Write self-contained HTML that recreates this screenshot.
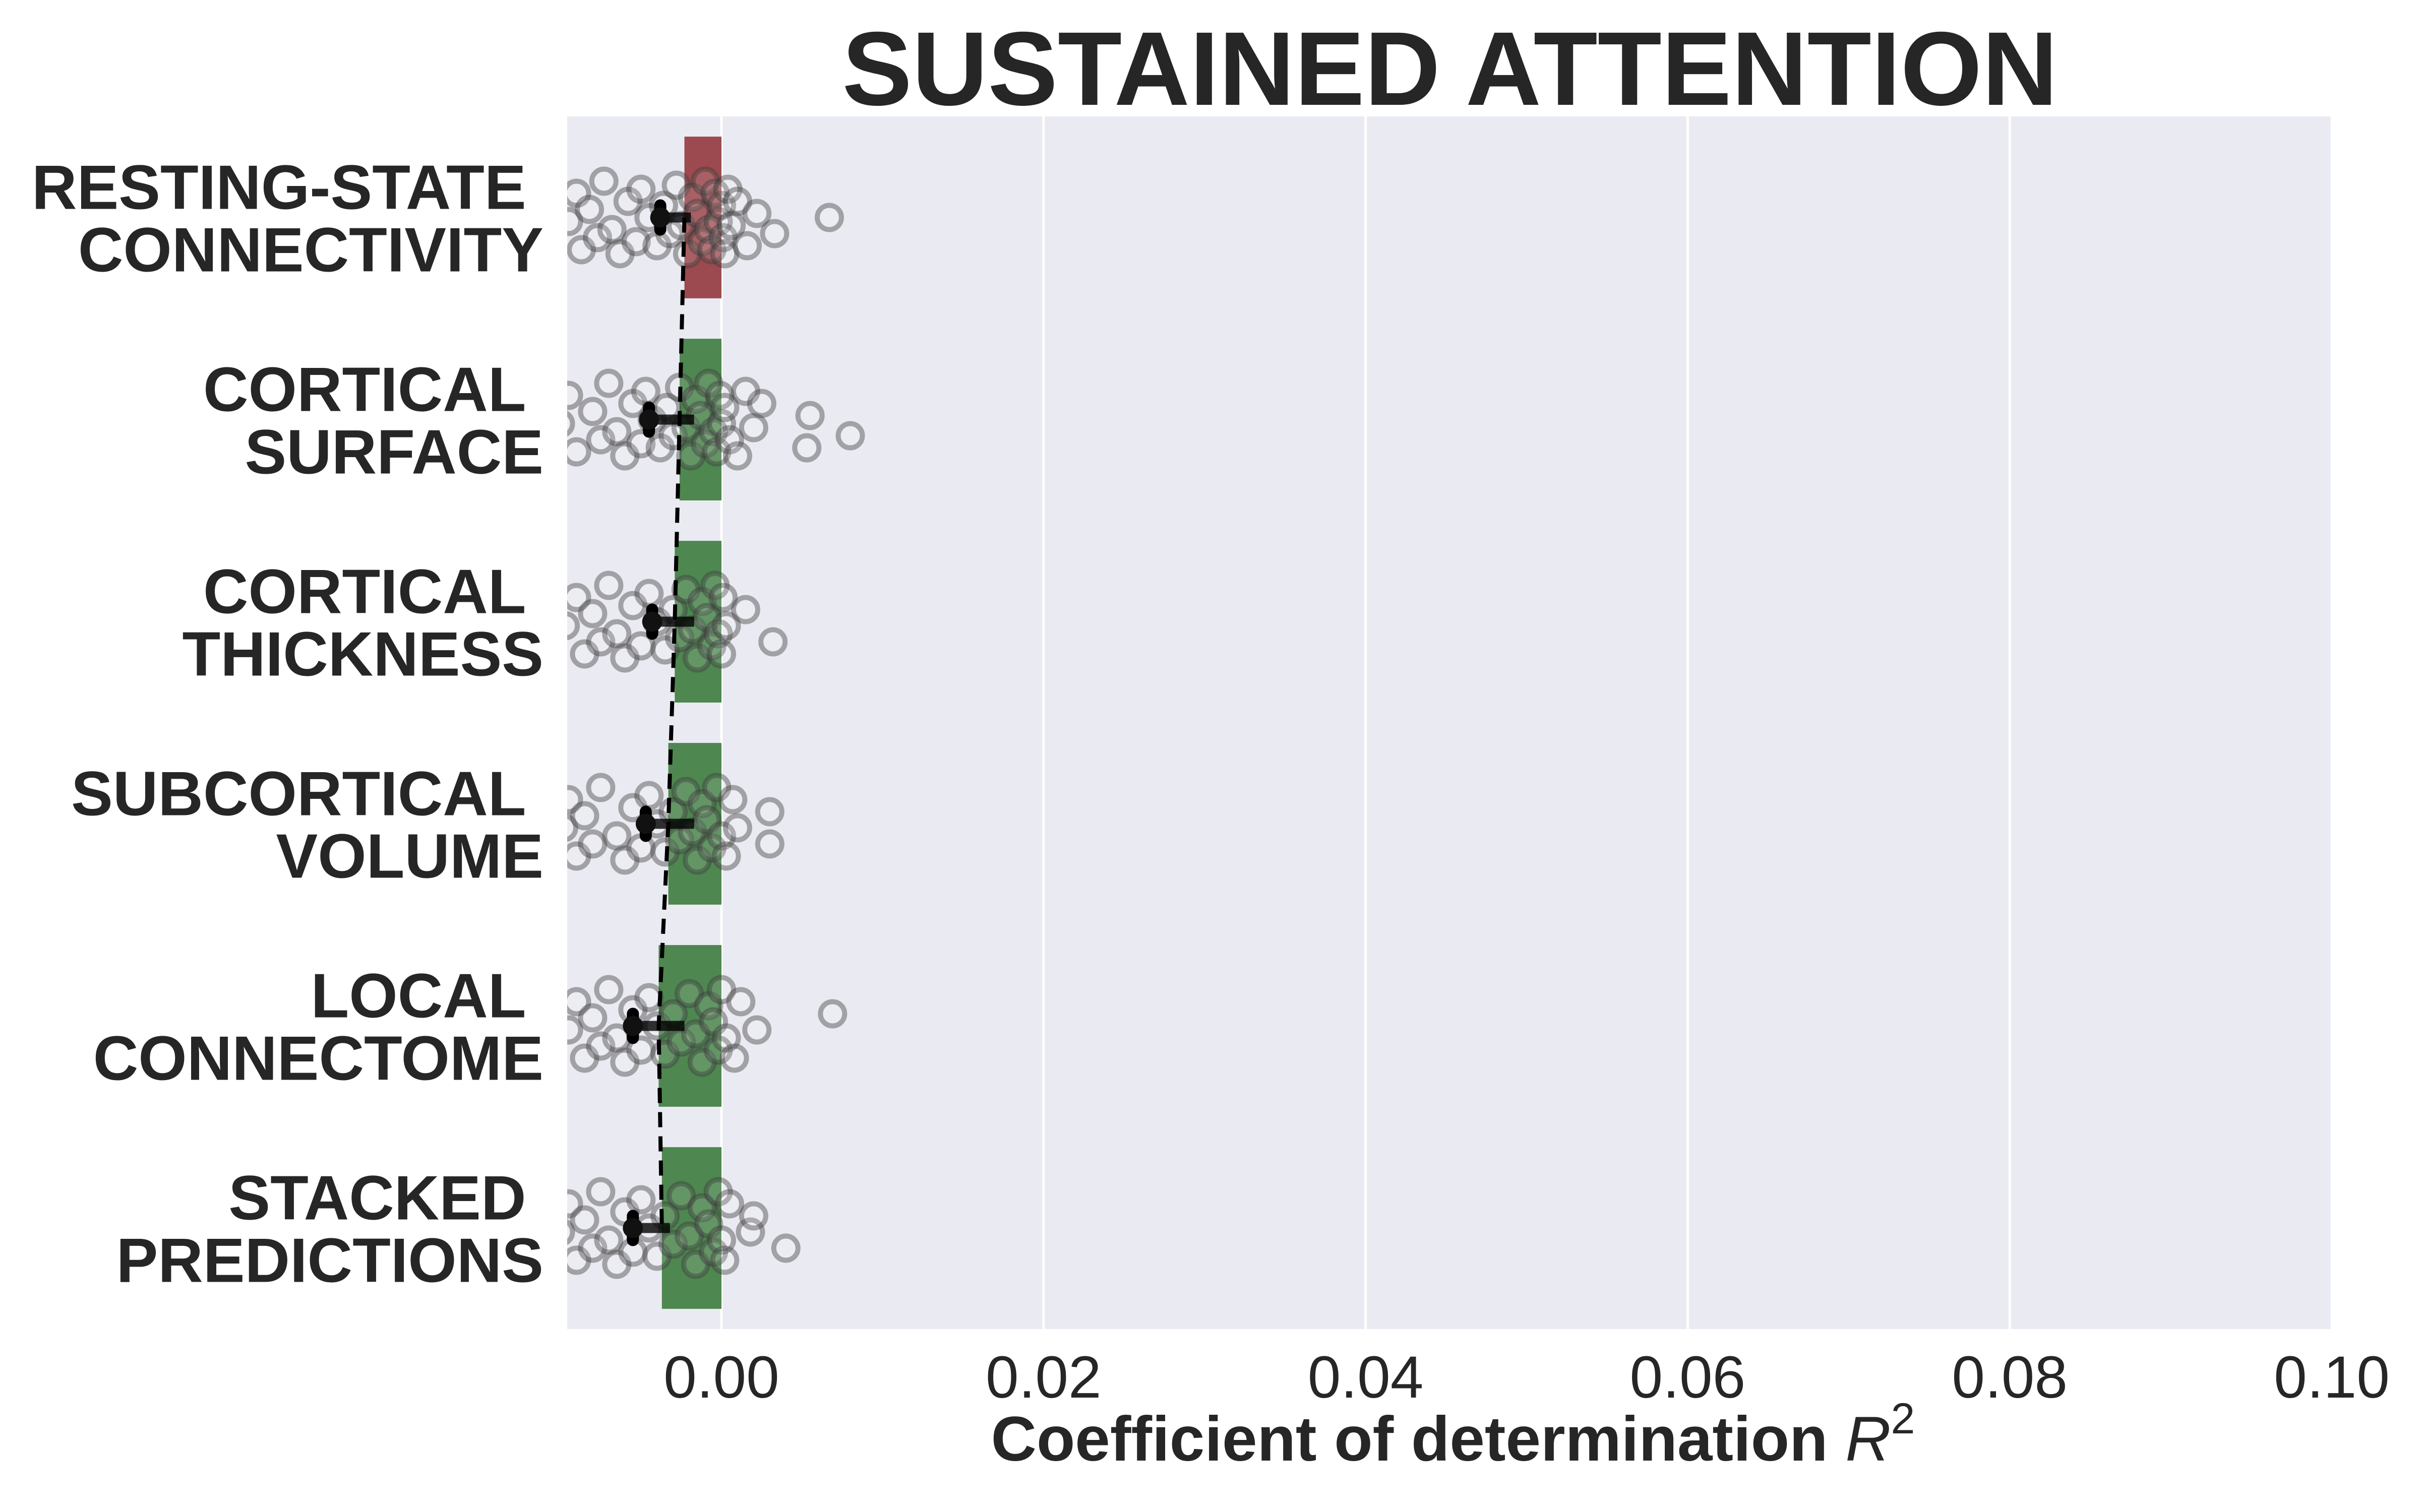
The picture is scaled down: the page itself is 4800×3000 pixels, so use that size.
<!DOCTYPE html>
<html><head><meta charset="utf-8"><style>
html,body{margin:0;padding:0;background:#fff;}
svg{display:block;font-family:"Liberation Sans",Arial,sans-serif;}
</style></head><body>
<svg id="chart" width="4800" height="3000" viewBox="0 0 4800 3000" xmlns="http://www.w3.org/2000/svg">
<defs><clipPath id="plotclip"><rect x="1125" y="231" width="3500" height="2406"/></clipPath></defs>
<rect x="1125" y="231" width="3500" height="2406" fill="#EAEAF2"/>
<g id="grid"></g>
<g id="marks" clip-path="url(#plotclip)"></g>
<g id="xticks"></g>
<g id="yticks"></g>
<text x="2876" y="208" text-anchor="middle" font-size="208" font-weight="bold" fill="#262626">SUSTAINED ATTENTION</text>
<text x="2882" y="2898" text-anchor="middle" font-size="125" font-weight="bold" fill="#262626">Coefficient of determination <tspan font-weight="normal" font-style="italic">R</tspan><tspan font-weight="normal" font-size="86" dy="-54">2</tspan></text>
</svg>
<script>
const categories = [["RESTING-STATE ","CONNECTIVITY"],["CORTICAL ","SURFACE"],["CORTICAL ","THICKNESS"],["SUBCORTICAL ","VOLUME"],["LOCAL ","CONNECTOME"],["STACKED ","PREDICTIONS"]];
const barValues = [-0.0023,-0.0026,-0.0029,-0.0033,-0.0039,-0.0037];
const barColors = ["#9C4A4F","#4E8750","#4E8750","#4E8750","#4E8750","#4E8750"];
const pointMeans = [-0.0038,-0.0045,-0.0043,-0.0047,-0.0055,-0.0055];
const ciHigh = [-0.0019,-0.0017,-0.0017,-0.0017,-0.0023,-0.0032];
const xTicks = [0,0.02,0.04,0.06,0.08,0.1];
const xTickLabels = ["0.00","0.02","0.04","0.06","0.08","0.10"];
const scatter1 = [-9.5,-9,-8.7,-8.2,-7.7,-7.3,-6.8,-6.3,-5.8,-5.3,-5,-4.5,-4,-3.6,-3.2,-2.8,-2.5,-2.1,-1.8,-1.5,-1.2,-1,-0.8,-0.6,-0.4,-0.2,0,0.1,0.2,0.4,0.6,1,1.6,2.2,3.3,6.7];
const scatter2 = [-10,-9.5,-9,-8,-7.5,-7,-6.5,-6,-5.5,-5,-4.7,-4.3,-3.8,-3.4,-3,-2.6,-2.2,-1.9,-1.6,-1.3,-1,-0.8,-0.5,-0.3,-0.1,0,0.2,0.5,1,1.5,2,2.5,5.3,5.5,8];
const scatter3 = [-9.7,-9,-8.5,-8,-7.5,-7,-6.5,-6,-5.5,-5,-4.5,-4,-3.5,-3,-2.6,-2.2,-1.8,-1.5,-1.2,-0.9,-0.6,-0.4,-0.2,0,0.1,0.3,1.5,3.2];
const scatter4 = [-9.8,-9.5,-9,-8.5,-8,-7.5,-6.5,-6,-5.5,-5,-4.5,-4,-3.5,-3,-2.6,-2.2,-1.8,-1.5,-1.2,-0.9,-0.6,-0.3,0,0.3,0.7,1,3,3];
const scatter5 = [-9.5,-9,-8.5,-8,-7.5,-7,-6.5,-6,-5.5,-5,-4.5,-4,-3.5,-3,-2.5,-2,-1.6,-1.2,-0.8,-0.5,-0.2,0,0.3,0.8,1.2,2.2,6.9];
const scatter6 = [-10,-9.5,-9,-8.5,-8,-7.5,-7,-6.5,-6,-5.5,-5,-4.5,-4,-3.5,-3,-2.5,-2,-1.6,-1.2,-0.8,-0.5,-0.2,0,0.2,0.5,1.8,2,4];
const jitter = [0.1,-0.6,0.8,-0.2,0.5,-0.9,0.3,0.9,-0.4,0.6,-0.7,0.0,0.7,-0.3,0.4,-0.8,0.2,0.9,-0.5,-0.1,0.6,-0.9,0.3,0.8,-0.6,0.1,-0.3,0.5,0.9,-0.7,0.2,-0.4,0.7,-0.1,0.4,0.0];
const scatterSets = [scatter1,scatter2,scatter3,scatter4,scatter5,scatter6];

const NS="http://www.w3.org/2000/svg";
const X0=1125,X1=4625,Y0=231,Y1=2637,XMIN=-0.00958,XMAX=0.1;
const xs=v=>X0+(v-XMIN)/(XMAX-XMIN)*(X1-X0);
const band=(Y1-Y0)/categories.length;
const yc=i=>Y0+band*(i+0.5);
function mk(tag,attrs,parent){const e=document.createElementNS(NS,tag);for(const k in attrs)e.setAttribute(k,attrs[k]);parent.appendChild(e);return e;}
const grid=document.getElementById('grid'),marks=document.getElementById('marks'),xt=document.getElementById('xticks'),yt=document.getElementById('yticks');
xTicks.forEach((t,i)=>{
  const l=mk('line',{x1:xs(t),x2:xs(t),y1:Y0,y2:Y1,stroke:'#fff','stroke-width':5},grid);
  
  
  const tx=mk('text',{x:xs(t),y:2773,'text-anchor':'middle','font-size':118,fill:'#262626'},xt);
  tx.textContent=xTickLabels[i];
  
  
});
categories.forEach((c,i)=>{
  const b=mk('rect',{x:xs(barValues[i]),y:yc(i)-band*0.4,width:xs(0)-xs(barValues[i]),height:band*0.8,fill:barColors[i]},marks);
  
  
  const t=mk('text',{x:1078,'text-anchor':'end','font-size':124,'font-weight':'bold',fill:'#262626'},yt);
  
  
  const s1=mk('tspan',{x:1078,y:yc(i)-17},t);s1.textContent=c[0].trim()+'\u00a0';
  const s2=mk('tspan',{x:1078,y:yc(i)+107},t);s2.textContent=c[1];
});
scatterSets.forEach((set,i)=>{
  set.forEach((v,j)=>{
    const p=mk('circle',{cx:xs(v/1000),cy:yc(i)+jitter[j%jitter.length]*80,r:24,fill:'rgba(255,255,255,0.12)',stroke:'rgba(60,60,60,0.42)','stroke-width':10},marks);
    
    
  });
});
const pts=barValues.map((v,i)=>xs(v)+','+yc(i)).join(' ');
const dl=mk('polyline',{points:pts,fill:'none',stroke:'#000','stroke-width':8,'stroke-dasharray':'30 18'},marks);


categories.forEach((c,i)=>{
  const e=mk('line',{x1:xs(pointMeans[i]),x2:xs(ciHigh[i]),y1:yc(i),y2:yc(i),stroke:'rgba(0,0,0,0.8)','stroke-width':20},marks);
  
  
  const cap=mk('line',{x1:xs(pointMeans[i]),x2:xs(pointMeans[i]),y1:yc(i)-24,y2:yc(i)+24,stroke:'#000','stroke-width':24,'stroke-linecap':'round'},marks);
  
  
  const m=mk('circle',{cx:xs(pointMeans[i]),cy:yc(i),r:20,fill:'#111'},marks);
  
  
});
</script>
</body></html>
